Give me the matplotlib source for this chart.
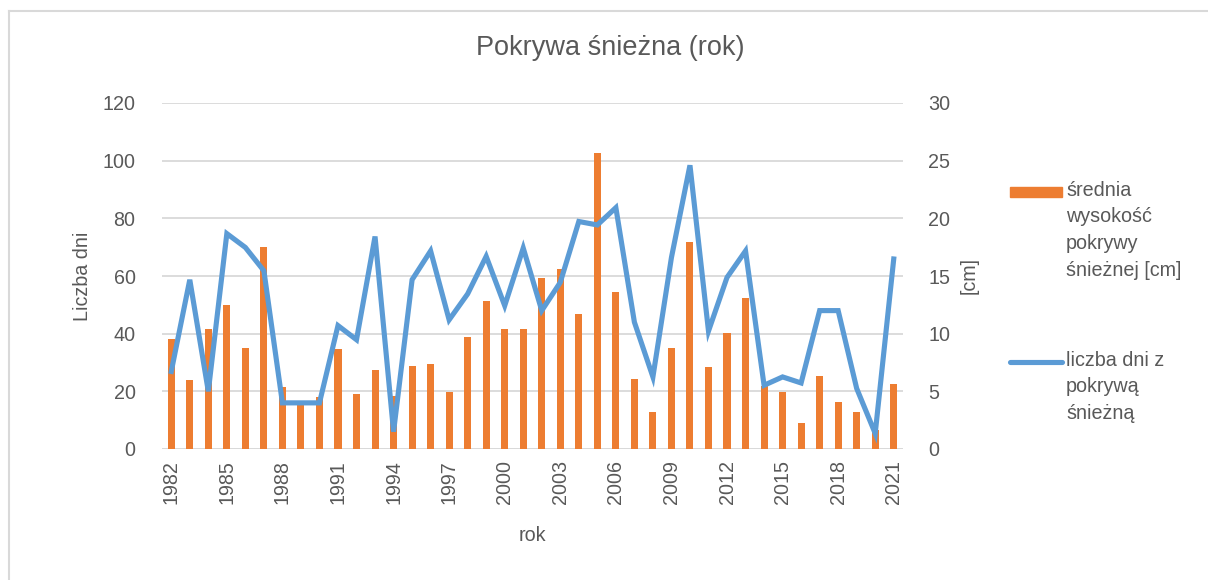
import matplotlib.pyplot as plt
import numpy as np
from matplotlib.lines import Line2D
from matplotlib.patches import Rectangle

plt.rcParams['font.family'] = ['Liberation Sans', 'DejaVu Sans']

years = list(range(1982, 2022))
# średnia wysokość pokrywy śnieżnej (bars, read on the left scale)
snow_depth = [38, 24, 41.6, 50, 35.2, 70, 21.4, 15.5, 18, 34.7,
              19, 27.5, 18.5, 28.7, 29.5, 19.6, 38.9, 51.5, 41.7, 41.6,
              59.2, 62.3, 46.9, 102.8, 54.6, 24.2, 12.7, 35.2, 71.8, 28.3,
              40.2, 52.5, 21.8, 19.8, 9.0, 25.4, 16.3, 12.9, 6.5, 22.6]
# liczba dni z pokrywą śnieżną (line)
snow_days = [26.9, 58.7, 20.0, 74.7, 69.9, 61.8, 16, 16, 16, 42.8,
             37.9, 73.7, 6.0, 58.7, 68.7, 44.8, 53.8, 66.8, 49.7, 69.7,
             48, 57.8, 78.9, 77.7, 83.7, 44, 25, 66.4, 98.4, 40.9,
             59.5, 68.7, 22.1, 25, 22.9, 48, 48, 21, 5.4, 65.9]
tick_years = years[::3]

orange = '#ED7D31'
blue = '#5B9BD5'
grey_txt = '#595959'
grid_c = '#D9D9D9'
fs = 14.2

fig = plt.figure(figsize=(12.08, 5.8), dpi=100)
W, H = 1208, 580
ax = fig.add_axes([162 / W, 1 - 449 / H, (903 - 162) / W, (449 - 103) / H])

x = np.arange(len(years))
ax.bar(x, snow_depth, width=0.38, color=orange, zorder=2)
ax.plot(x, snow_days, color=blue, lw=3.7, zorder=3, solid_joinstyle='miter')

ax.set_xlim(-0.5, len(years) - 0.5)
ax.set_ylim(0, 120)
ax.set_yticks(range(0, 121, 20))
ax.yaxis.grid(True, color=grid_c, lw=1.3, zorder=0)
ax.set_axisbelow(True)
for s in ax.spines.values():
    s.set_visible(False)
ax.axhline(0, color=grid_c, lw=1.3, zorder=1)

ax.set_xticks([years.index(y) for y in tick_years])
ax.set_xticklabels([str(y) for y in tick_years], rotation=90)
ax.tick_params(axis='both', length=0, labelsize=fs, colors=grey_txt)
ax.tick_params(axis='y', pad=19)
ax.tick_params(axis='x', pad=8)
ax.set_ylabel('Liczba dni', fontsize=fs, color=grey_txt, labelpad=8)
ax.set_xlabel('rok', fontsize=fs, color=grey_txt, labelpad=16)

ax2 = ax.twinx()
ax2.set_ylim(0, 30)
ax2.set_yticks(range(0, 31, 5))
for s in ax2.spines.values():
    s.set_visible(False)
ax2.tick_params(axis='y', length=0, labelsize=fs, colors=grey_txt, pad=18)
ax2.set_ylabel('[cm]', fontsize=fs, color=grey_txt, labelpad=7)

fig.text(610 / W, 1 - 48 / H, 'Pokrywa śnieżna (rok)', fontsize=19.5,
         color=grey_txt, ha='center', va='center')

# legend drawn by hand so the key sits next to the first text line
fig.add_artist(Rectangle((1010 / W, 1 - 197 / H), 52 / W, 10 / H,
                         transform=fig.transFigure, color=orange))
fig.text(1066 / W, 1 - 181 / H, 'średnia\nwysokość\npokrywy\nśnieżnej [cm]',
         fontsize=fs, color=grey_txt, va='top', ha='left', linespacing=1.5)
fig.add_artist(Line2D([1010 / W, 1062 / W], [1 - 362 / H, 1 - 362 / H],
                      transform=fig.transFigure, color=blue, lw=3.7,
                      solid_capstyle='round'))
fig.text(1066 / W, 1 - 351 / H, 'liczba dni z\npokrywą\nśnieżną',
         fontsize=fs, color=grey_txt, va='top', ha='left', linespacing=1.5)

# outer chart frame (only top and left edges fall inside the picture)
fig.add_artist(Line2D([9 / W, 1], [1 - 11 / H, 1 - 11 / H],
                      transform=fig.transFigure, color=grid_c, lw=1.5))
fig.add_artist(Line2D([9 / W, 9 / W], [0, 1 - 11 / H],
                      transform=fig.transFigure, color=grid_c, lw=1.5))

fig.savefig('out.png', dpi=100)
